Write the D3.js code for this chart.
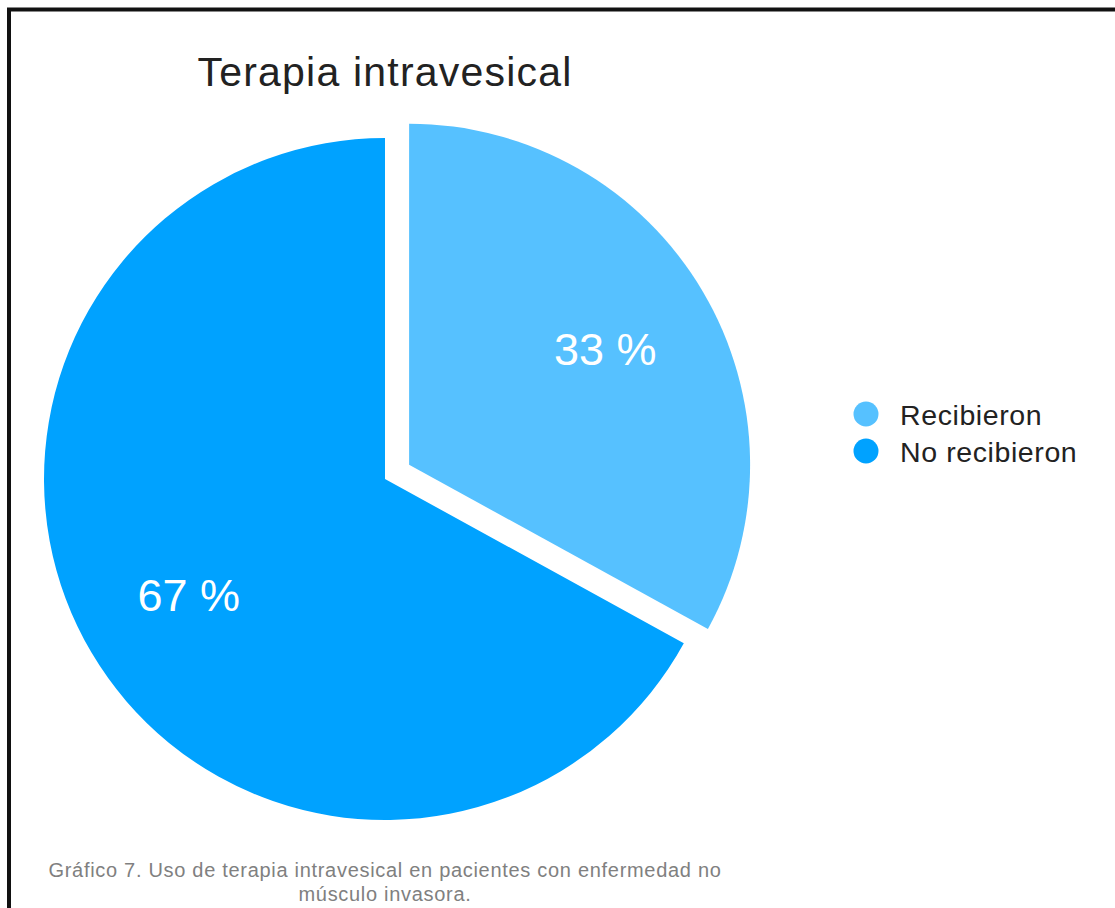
<!DOCTYPE html>
<html>
<head>
<meta charset="utf-8">
<script src="https://cdn.jsdelivr.net/npm/d3@7"></script>
<style>
  html, body { margin: 0; padding: 0; background: #fff; }
  svg { display: block; }
  text { font-family: "Liberation Sans", Arial, Helvetica, sans-serif; }
</style>
</head>
<body>
<svg id="chart" width="1115" height="908"></svg>
<script>
// Terapia intravesical: share of patients
const categories = ["Recibieron", "No recibieron"];
const values = [33, 67];
const valueLabels = ["33 %", "67 %"];
const colors = ["#56C1FF", "#00A2FF"];
const title = "Terapia intravesical";
const captionLines = [
  "Gráfico 7. Uso de terapia intravesical en pacientes con enfermedad no",
  "músculo invasora."
];

const svg = d3.select("#chart");
const W = 1115, H = 908;

// frame
svg.append("rect")
  .attr("x", 9).attr("y", 9.5)
  .attr("width", W + 20).attr("height", H + 20)
  .attr("fill", "none")
  .attr("stroke", "#111")
  .attr("stroke-width", 4);

const cx = 385, cy = 479, R = 341;
const explode = 28;
const labelR = 228;

svg.append("text")
  .attr("x", cx).attr("y", 86)
  .attr("text-anchor", "middle")
  .attr("font-size", 41)
  .attr("letter-spacing", 1.2)
  .attr("fill", "#222")
  .text(title);

const pie = d3.pie().sort(null).value(d => d)(values);
const arc = d3.arc().innerRadius(0).outerRadius(R);

const g = svg.append("g").attr("transform", `translate(${cx},${cy})`);

const slices = g.selectAll("g.slice")
  .data(pie)
  .join("g")
  .attr("class", "slice")
  .attr("transform", (d, i) => {
    if (i !== 0) return null;
    const a = (d.startAngle + d.endAngle) / 2;
    return `translate(${Math.sin(a) * explode},${-Math.cos(a) * explode})`;
  });

slices.append("path")
  .attr("d", arc)
  .attr("fill", (d, i) => colors[i]);

slices.append("text")
  .attr("x", d => Math.sin((d.startAngle + d.endAngle) / 2) * labelR)
  .attr("y", d => -Math.cos((d.startAngle + d.endAngle) / 2) * labelR)
  .attr("dy", "0.36em")
  .attr("text-anchor", "middle")
  .attr("font-size", 45)
  .attr("fill", "#fff")
  .text((d, i) => valueLabels[i]);

// legend
const legend = svg.append("g").attr("transform", "translate(866,414)");
const items = legend.selectAll("g")
  .data(categories)
  .join("g")
  .attr("transform", (d, i) => `translate(0,${i * 37})`);
items.append("circle")
  .attr("r", 12.5)
  .attr("fill", (d, i) => colors[i]);
items.append("text")
  .attr("x", 34)
  .attr("y", 11)
  .attr("font-size", 28.5)
  .attr("letter-spacing", 0.6)
  .attr("fill", "#222")
  .text(d => d);

// caption
svg.append("g")
  .selectAll("text")
  .data(captionLines)
  .join("text")
  .attr("x", cx)
  .attr("y", (d, i) => 877 + i * 24)
  .attr("text-anchor", "middle")
  .attr("font-size", 20)
  .attr("letter-spacing", 0.7)
  .attr("fill", "#808080")
  .text(d => d);
</script>
</body>
</html>
